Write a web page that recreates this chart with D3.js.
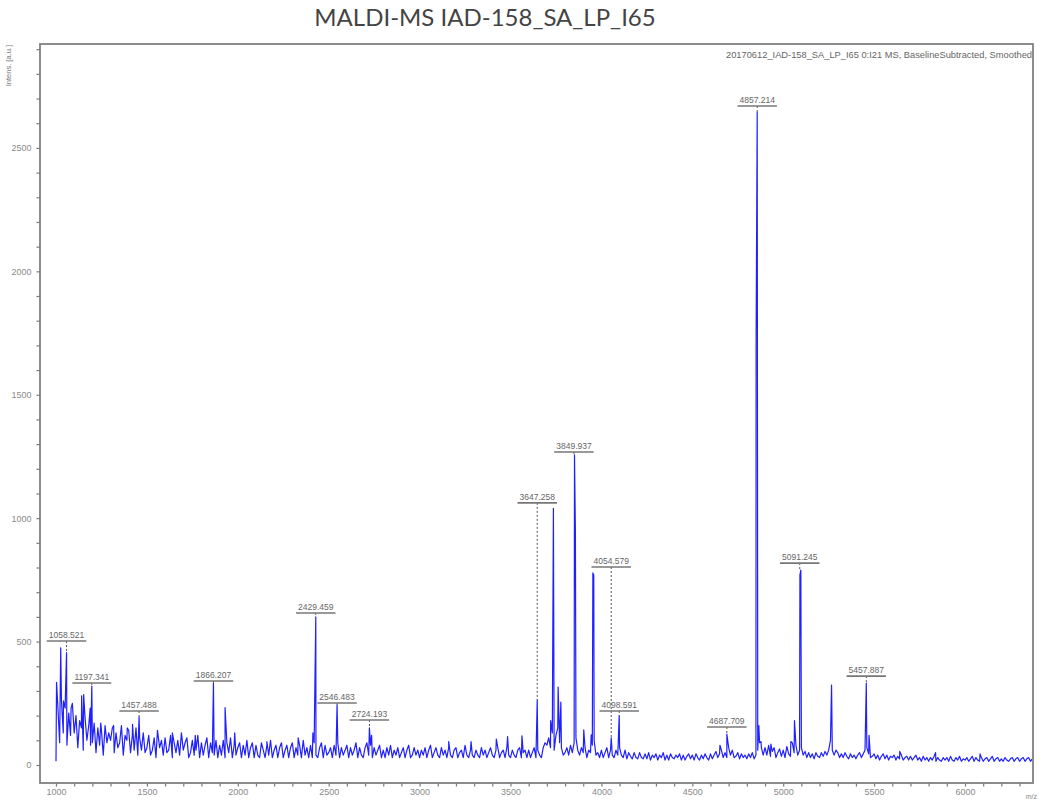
<!DOCTYPE html>
<html>
<head>
<meta charset="utf-8">
<script src="https://cdnjs.cloudflare.com/ajax/libs/d3/7.8.5/d3.min.js"></script>
<style>
  body { margin: 0; background: #fff; }
  .tick text { font-family: "Liberation Sans", Arial, sans-serif; font-size: 9px; fill: #8a8a8a; }
  .tick line { stroke: #7a7a7a; stroke-width: 1.2; }
</style>
</head>
<body>
<div id="spectrum"></div>
<script>
const chartTitle = "MALDI-MS IAD-158_SA_LP_I65";
const infoText = "20170612_IAD-158_SA_LP_I65 0:I21 MS, BaselineSubtracted, Smoothed";

// baseline noise, one value every 10 m/z from 1000
const noiseStart = 1000;
const noiseStep = 10;
const noise = [
  15, 240, 90, 260, 130, 230, 80, 210, 120, 250,
  130, 200, 70, 180, 150, 60, 190, 100, 160, 80,
  90, 170, 50, 150, 80, 140, 40, 160, 90, 130,
  100, 150, 50, 130, 70, 90, 160, 40, 120, 100,
  140, 50, 120, 60, 150, 40, 110, 60, 130, 50,
  70, 120, 40, 60, 110, 30, 130, 70, 100, 40,
  110, 50, 60, 120, 30, 90, 50, 100, 40, 130,
  60, 90, 110, 30, 50, 100, 40, 60, 120, 30,
  90, 40, 80, 110, 30, 90, 50, 40, 100, 30,
  80, 40, 100, 30, 90, 50, 110, 30, 80, 40,
  70, 90, 30, 80, 40, 100, 30, 70, 90, 30,
  80, 40, 30, 90, 60, 30, 80, 40, 100, 30,
  60, 80, 30, 70, 90, 30, 60, 80, 30, 70,
  90, 30, 70, 40, 80, 30, 100, 40, 70, 30,
  80, 30, 90, 40, 30, 70, 90, 30, 80, 40,
  50, 70, 30, 80, 40, 90, 30, 70, 40, 60,
  80, 30, 70, 40, 60, 90, 30, 70, 40, 30,
  70, 90, 40, 80, 30, 70, 40, 60, 80, 30,
  60, 30, 70, 40, 80, 30, 60, 40, 70, 30,
  50, 70, 30, 60, 80, 30, 40, 70, 40, 60,
  30, 60, 40, 70, 30, 60, 80, 30, 50, 70,
  40, 30, 70, 40, 60, 30, 70, 40, 30, 60,
  70, 30, 50, 60, 30, 80, 40, 30, 60, 40,
  30, 60, 40, 30, 70, 40, 60, 30, 50, 70,
  40, 30, 60, 70, 30, 50, 60, 30, 70, 40,
  30, 60, 40, 30, 60, 70, 30, 50, 60, 30,
  60, 30, 50, 70, 30, 60, 40, 30, 70, 90,
  80, 110, 70, 130, 60, 120, 150, 90, 70, 40,
  50, 70, 40, 80, 50, 90, 110, 60, 40, 70,
  50, 70, 30, 60, 50, 80, 100, 40, 50, 30,
  60, 30, 50, 70, 30, 60, 40, 30, 60, 40,
  70, 40, 30, 60, 25, 50, 35, 25, 50, 30,
  25, 50, 30, 25, 45, 25, 50, 20, 40, 30,
  45, 20, 40, 30, 50, 20, 40, 20, 45, 30,
  25, 40, 30, 45, 20, 40, 20, 35, 45, 25,
  40, 20, 45, 30, 20, 40, 25, 45, 30, 20,
  45, 25, 40, 55, 30, 45, 60, 30, 50, 30,
  70, 40, 60, 30, 35, 50, 25, 45, 30, 40,
  25, 45, 30, 50, 25, 40, 60, 90, 70, 40,
  70, 40, 80, 35, 55, 70, 30, 50, 65, 35,
  60, 30, 75, 45, 35, 90, 50, 80, 40, 60,
  70, 40, 55, 30, 50, 30, 45, 25, 50, 35,
  30, 50, 35, 55, 40, 60, 100, 60, 40, 60,
  50, 30, 45, 30, 50, 35, 25, 45, 30, 40,
  25, 40, 50, 30, 45, 60, 70, 45, 30, 35,
  45, 25, 40, 20, 35, 45, 25, 40, 20, 35,
  30, 40, 20, 35, 25, 40, 20, 30, 35, 20,
  35, 20, 30, 40, 20, 30, 15, 35, 20, 30,
  15, 30, 20, 35, 15, 30, 20, 15, 30, 20,
  30, 15, 35, 20, 15, 30, 20, 35, 15, 25,
  20, 30, 15, 25, 35, 15, 30, 20, 15, 30,
  15, 25, 30, 15, 25, 35, 15, 25, 30, 15,
  25, 15, 30, 20, 15, 25, 30, 15, 25, 30,
  15, 25, 30, 15, 25, 30, 15, 25
];

// peaks [m/z, intensity]
const peaks = [
  [1003, 335], [1026, 475], [1041, 260], [1058, 455], [1083, 230],
  [1141, 280], [1152, 285], [1188, 230], [1197, 320], [1246, 170],
  [1317, 160], [1392, 150], [1421, 165], [1457, 195], [1558, 140],
  [1640, 130], [1766, 120], [1866, 332], [1930, 232], [1983, 130],
  [2160, 95], [2332, 110], [2413, 130], [2429, 600], [2546, 243],
  [2724, 150], [2736, 120], [3160, 95], [3283, 95], [3422, 105],
  [3484, 115], [3563, 118], [3647, 263], [3721, 180], [3736, 1040],
  [3762, 316], [3777, 255], [3852, 1256], [3857, 944], [3903, 142],
  [3944, 122], [3953, 778], [3958, 770], [4054, 110], [4098, 200],
  [4652, 80], [4690, 125], [4851, 1730], [4857, 2645], [4866, 160],
  [4878, 95], [4932, 85], [5042, 95], [5062, 180], [5092, 770],
  [5097, 790], [5266, 324], [5457, 332], [5472, 120], [5641, 55],
  [5838, 50], [6083, 45]
];

// annotated peaks
const labelMz = [1058, 1197, 1457, 1866, 2429, 2546, 2724, 3647, 3849, 4054, 4098, 4690, 4857, 5091, 5457];
const labelText = ["1058.521", "1197.341", "1457.488", "1866.207", "2429.459", "2546.483", "2724.193",
  "3647.258", "3849.937", "4054.579", "4098.591", "4687.709", "4857.214", "5091.245", "5457.887"];
const labelPeak = [455, 320, 195, 332, 600, 243, 150, 263, 1256, 110, 200, 125, 2645, 790, 332];
const labelLevel = [502, 332, 219, 340, 616, 251, 182, 1062, 1268, 802, 219, 154, 2670, 818, 360];

const yTickLabels = [0, 500, 1000, 1500, 2000, 2500];
const xTickLabels = [1000, 1500, 2000, 2500, 3000, 3500, 4000, 4500, 5000, 5500, 6000];

class SpectrumChart {

  constructor() {
    this.width = 1040;
    this.height = 810;
    this.left = 40;
    this.right = 1033;
    this.top = 44;
    this.bottom = 783;
    this.svg = d3.select('#spectrum')
      .append('svg')
      .attr('width', this.width)
      .attr('height', this.height);
  }

  render() {
    let svg = this.svg;
    let x = d3.scaleLinear().domain([912, 6374]).range([this.left, this.right]);
    let y = d3.scaleLinear().domain([-73, 2921]).range([this.bottom, this.top]);

    svg.append('text')
      .attr('x', 485).attr('y', 26)
      .attr('text-anchor', 'middle')
      .style('font-family', 'Lato, "Open Sans", sans-serif')
      .style('font-size', '24px')
      .style('fill', '#444')
      .text(chartTitle);

    // merge baseline samples and peak tops into one trace
    let trace = noise.map((v, i) => [noiseStart + i * noiseStep, v]).concat(peaks);
    trace.sort((a, b) => a[0] - b[0]);

    svg.append('clipPath').attr('id', 'plotclip')
      .append('rect')
      .attr('x', this.left).attr('y', this.top)
      .attr('width', this.right - this.left).attr('height', this.bottom - this.top);

    let line = d3.line().x(d => x(d[0])).y(d => y(d[1]));
    svg.append('path')
      .datum(trace)
      .attr('clip-path', 'url(#plotclip)')
      .attr('d', line)
      .attr('fill', 'none')
      .attr('stroke', '#2020ff')
      .attr('stroke-width', 1.2)
      .attr('stroke-linejoin', 'round');

    // axes
    let yAxis = d3.axisLeft(y)
      .tickValues(d3.range(0, 2901, 100))
      .tickSize(3.5)
      .tickPadding(5)
      .tickFormat(d => yTickLabels.includes(d) ? d : '');
    svg.append('g').attr('transform', `translate(${this.left},0)`).call(yAxis)
      .call(g => g.select('.domain').remove());

    let xAxis = d3.axisBottom(x)
      .tickValues(d3.range(1000, 6301, 100))
      .tickSize(3.5)
      .tickPadding(2)
      .tickFormat(d => xTickLabels.includes(d) ? d : '');
    svg.append('g').attr('transform', `translate(0,${this.bottom})`).call(xAxis)
      .call(g => g.select('.domain').remove());

    svg.append('rect')
      .attr('x', this.left).attr('y', this.top)
      .attr('width', this.right - this.left).attr('height', this.bottom - this.top)
      .attr('fill', 'none')
      .attr('stroke', '#808080')
      .attr('stroke-width', 1.8);

    svg.append('text')
      .attr('transform', `translate(11,${this.top + 1}) rotate(-90)`)
      .attr('text-anchor', 'end')
      .style('font-family', '"Liberation Sans", Arial, sans-serif')
      .style('font-size', '7.5px')
      .style('fill', '#777')
      .text('Intens. [a.u.]');

    svg.append('text')
      .attr('x', this.right + 4).attr('y', 799)
      .attr('text-anchor', 'end')
      .style('font-family', '"Liberation Sans", Arial, sans-serif')
      .style('font-size', '7px')
      .style('fill', '#888')
      .text('m/z');

    svg.append('text')
      .attr('x', this.right - 1).attr('y', 58)
      .attr('text-anchor', 'end')
      .style('font-family', '"Liberation Sans", Arial, sans-serif')
      .style('font-size', '9.3px')
      .style('fill', '#666')
      .text(infoText);

    // peak annotations
    let labels = svg.append('g').selectAll('g')
      .data(labelMz.map((m, i) => ({mz: m, text: labelText[i], peak: labelPeak[i], level: labelLevel[i]})))
      .enter()
      .append('g');

    labels.append('line')
      .attr('x1', d => x(d.mz)).attr('x2', d => x(d.mz))
      .attr('y1', d => y(d.level)).attr('y2', d => y(d.peak))
      .attr('stroke', '#555')
      .attr('stroke-width', 1)
      .attr('stroke-dasharray', '2,2');

    labels.append('text')
      .attr('x', d => x(d.mz)).attr('y', d => y(d.level) - 3)
      .attr('text-anchor', 'middle')
      .style('font-family', '"Liberation Sans", Arial, sans-serif')
      .style('font-size', '8.5px')
      .style('fill', '#666')
      .text(d => d.text);

    labels.each(function(d) {
      let w = d3.select(this).select('text').node().getComputedTextLength() + 4;
      d3.select(this).append('line')
        .attr('x1', x(d.mz) - w / 2).attr('x2', x(d.mz) + w / 2)
        .attr('y1', y(d.level)).attr('y2', y(d.level))
        .attr('stroke', '#777')
        .attr('stroke-width', 1.6);
    });
  }
}

let chart = new SpectrumChart();
chart.render();
</script>
</body>
</html>
